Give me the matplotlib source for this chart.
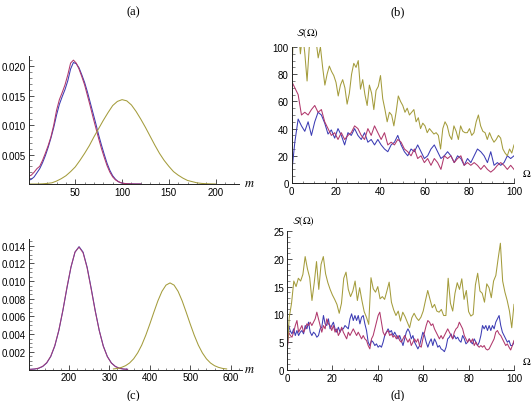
import numpy as np
import matplotlib
matplotlib.use('Agg')
import matplotlib.pyplot as plt
from matplotlib.ticker import MultipleLocator, FixedLocator, FormatStrFormatter

plt.rcParams['mathtext.fontset'] = 'stix'
plt.rcParams['font.family'] = ['Liberation Sans', 'DejaVu Sans']

BLUE = '#3c3cb4'
RED = '#b0386c'
OLIVE = '#a49c3c'

# ---------------- panel (a) ----------------
m_a = [0, 3, 6, 9, 12, 15, 18, 21, 24, 27, 30, 33, 36, 39, 42, 45, 48, 51, 54, 57, 60,
       63, 66, 69, 72, 75, 78, 81, 84, 87, 90, 93, 96, 99, 102, 105, 108, 111, 114, 117, 120]
a_blue = [0.0006, 0.0008, 0.0012, 0.0019, 0.0026, 0.0036, 0.0048, 0.0062, 0.0078, 0.0096,
          0.0117, 0.0135, 0.0148, 0.0160, 0.0175, 0.0195, 0.0206, 0.0204, 0.0197, 0.0185,
          0.0172, 0.0156, 0.0138, 0.0120, 0.0102, 0.0083, 0.0066, 0.0050, 0.0035, 0.0023,
          0.0014, 0.0008, 0.0004, 0.0002, 0.0001, 0.00005, 0.00003, 0.00001, 0, 0, 0]
a_red = [0.0013, 0.0015, 0.0020, 0.0026, 0.0030, 0.0040, 0.0052, 0.0065, 0.0080, 0.0100,
         0.0125, 0.0143, 0.0155, 0.0168, 0.0185, 0.0205, 0.0210, 0.0205, 0.0195, 0.0182,
         0.0168, 0.0150, 0.0132, 0.0113, 0.0095, 0.0077, 0.0060, 0.0045, 0.0031, 0.0020,
         0.0012, 0.0007, 0.0004, 0.0002, 0.0001, 0.00005, 0.00003, 0.00001, 0, 0, 0]
m_a_olive = [0, 5, 10, 15, 20, 25, 30, 35, 40, 45, 50, 55, 60, 65, 70, 75, 80, 85, 90, 95,
             100, 105, 110, 115, 120, 125, 130, 135, 140, 145, 150, 155, 160, 165, 170,
             175, 180, 185, 190, 195, 200]
a_olive = [0, 0, 0, 0.00003, 0.0001, 0.0002, 0.0005, 0.0009, 0.0014, 0.0021, 0.0029,
           0.0040, 0.0052, 0.0065, 0.0080, 0.0094, 0.0108, 0.0121, 0.0133, 0.0140, 0.0143,
           0.0141, 0.0134, 0.0123, 0.0110, 0.0096, 0.0081, 0.0066, 0.0052, 0.0040, 0.0030,
           0.0021, 0.0015, 0.0010, 0.0006, 0.0004, 0.0002, 0.0001, 0.00005, 0.00002, 0]

# ---------------- panel (c) ----------------
m_c = [105, 115, 125, 135, 145, 155, 165, 175, 185, 195, 205, 215, 225, 235, 245, 255,
       265, 275, 285, 295, 305, 315, 325, 335, 345]
c_blue = [0.00002, 0.00005, 0.00014, 0.00034, 0.00074, 0.00147, 0.00266, 0.00441, 0.00667,
          0.0092, 0.01157, 0.01328, 0.0139, 0.01328, 0.01157, 0.0092, 0.00667, 0.00441,
          0.00266, 0.00147, 0.00074, 0.00034, 0.00014, 0.00005, 0.00002]
c_red = [0.00002, 0.00006, 0.00015, 0.00036, 0.00077, 0.0015, 0.0027, 0.00445, 0.0067,
         0.0093, 0.0116, 0.0133, 0.01385, 0.0132, 0.0115, 0.0091, 0.0066, 0.0044, 0.00262,
         0.00145, 0.00072, 0.00033, 0.00013, 0.00005, 0.00002]
m_c_olive = [310, 320, 330, 340, 350, 360, 370, 380, 390, 400, 410, 420, 430, 440, 450,
             460, 470, 480, 490, 500, 510, 520, 530, 540, 550, 560, 570, 580, 590]
c_olive = [0.00006, 0.00012, 0.00024, 0.00043, 0.00074, 0.00121, 0.00188, 0.00276, 0.00387,
           0.00514, 0.00648, 0.00777, 0.00884, 0.00955, 0.0098, 0.00955, 0.00884, 0.00777,
           0.00648, 0.00514, 0.00387, 0.00276, 0.00188, 0.00121, 0.00074, 0.00043, 0.00024,
           0.00012, 0.00006]

# ---------------- panel (b) ----------------
b_blue = [6, 30, 47, 42, 38, 45, 35, 45, 52, 50, 44, 36, 39, 33, 40, 35, 28, 37, 35, 40,
          35, 32, 37, 30, 32, 28, 32, 28, 25, 23, 28, 30, 35, 28, 23, 20, 25, 23, 28, 23,
          18, 20, 25, 28, 23, 18, 20, 23, 20, 15, 20, 18, 13, 18, 15, 20, 25, 23, 20, 15,
          23, 13, 15, 13, 15, 20, 18, 20]
b_red = [75, 70, 65, 50, 52, 50, 54, 57, 52, 54, 45, 40, 35, 37, 32, 37, 32, 35, 37, 42,
         40, 35, 32, 40, 35, 42, 37, 32, 37, 28, 30, 28, 32, 30, 25, 23, 20, 25, 18, 20,
         15, 18, 13, 18, 15, 10, 20, 18, 20, 15, 18, 20, 13, 15, 13, 15, 13, 10, 13, 10,
         8, 10, 13, 15, 13, 10, 13, 10]
b_olive = [70, 120, 120, 115, 95, 110, 95, 75, 100, 110,
           110, 105, 92, 100, 85, 72, 80, 86, 82, 79,
           74, 64, 72, 76, 70, 58, 66, 80, 88, 85,
           90, 69, 76, 65, 57, 72, 66, 54, 68, 71,
           79, 62, 54, 45, 52, 50, 42, 52, 64, 60,
           57, 52, 55, 50, 52, 54, 45, 48, 40, 44,
           42, 37, 40, 38, 36, 37, 35, 25, 40, 45,
           42, 35, 32, 42, 38, 32, 42, 38, 37, 37,
           40, 35, 37, 45, 50, 42, 38, 37, 32, 37,
           33, 30, 32, 35, 33, 25, 22, 20, 25, 22, 28]

# ---------------- panel (d) ----------------
d_blue = [3, 8, 7, 6.5, 7.4, 6.2, 7.1, 6.2, 6.8, 7.1, 6.5, 8, 7.4, 8.6, 6.8, 6.2, 6.8, 6.5,
          5.9, 6.2, 7.4, 7.7, 9.8, 8.3, 8, 9.2, 7.4, 8, 8.6, 7.4, 6.8, 7.7, 6.8, 7.4, 7.4,
          8, 7.7, 7.4, 9.2, 10.1, 8.9, 9.8, 8.9, 9.8, 8.3, 9.5, 9.8, 8.3, 7.1, 5, 4.4, 5.3,
          5, 4.4, 4.7, 4.1, 4.4, 4.1, 5, 6.2, 6.8, 7.4, 6.8, 7.1, 6.2, 6.8, 6.2, 5.6, 6.2,
          5.3, 4.4, 5.6, 6.8, 7.4, 6.8, 5.6, 6.2, 5, 4.4, 3.8, 4.4, 5.6, 6.8, 6.2, 5, 4.1,
          5, 5.6, 4.4, 5.6, 5, 4.1, 4.4, 3.8, 3.6, 3.3, 4.1, 5.6, 5.9, 6.5, 5.6, 6.2, 5.6,
          5.9, 5.3, 5, 6.2, 5.6, 4.7, 5, 5.6, 5, 4.7, 5.6, 5, 4.4, 5, 6.2, 8, 7.4, 8, 7.1,
          8, 7.1, 8, 7.4, 8.6, 9.2, 9.8, 8, 6.8, 6.2, 5.6, 5, 5.3, 4.4, 4.4, 5]
d_red = [3, 6.8, 6.2, 5.9, 6.8, 8, 8.9, 6.8, 7.4, 8, 6.8, 7.4, 8.3, 8, 8.6, 8, 8.6, 9.2,
         10.4, 9.2, 8, 6.8, 8, 7.4, 9.2, 8.3, 8, 7.1, 8, 6.8, 7.4, 6.2, 6.8, 7.7, 6.8, 6.2,
         5.6, 6.8, 6.2, 6.8, 7.4, 6.8, 6.2, 6.8, 6.2, 5.6, 6.2, 5.6, 5.3, 4.4, 3.8, 5.6,
         6.2, 7.4, 8.6, 9.8, 10.4, 8.6, 6.8, 6.2, 6.8, 7.1, 6.2, 6.5, 5.9, 6.2, 5.6, 6.2,
         5.3, 5, 5.6, 6.2, 5.6, 5, 5.6, 4.4, 5, 5.6, 5, 5.6, 4.4, 4.1, 5.6, 6.8, 8, 8.9,
         8.6, 8, 8.3, 7.4, 6.8, 6.2, 5.6, 6.2, 5.6, 6.2, 6.8, 7.4, 6.8, 6.2, 5.6, 6.8, 7.4,
         7.7, 8.6, 8, 7.4, 6.2, 5.6, 5, 5.6, 5, 5.6, 4.4, 5, 4.4, 4.1, 4.4, 4.1, 4.4, 3.8,
         3.6, 3.8, 4.4, 5, 5.6, 6.8, 7.1, 6.5, 6.2, 5.6, 5, 4.4, 4.7, 4.1, 3.6, 4.4, 5.3]
d_olive = [3.3, 9.5, 12, 16, 15, 16.5, 16, 17.2, 20.4, 18.2,
           16.6, 12.5, 15.7, 19.5, 14.5, 19, 20.4, 17.3, 15.7, 14.5,
           13.5, 12.7, 11.8, 10.2, 12, 16.5, 17.6, 14.5, 13.2, 14.2,
           16, 12.5, 14.8, 12.5, 10.5, 9.5, 8.2, 16.6, 14.6, 14,
           15, 12.8, 13.2, 12.7, 14.2, 15.8, 12.2, 10.8, 9.8, 10.6,
           8.8, 10.4, 9.6, 8.6, 7.6, 9.4, 10.2, 9.4, 8.9, 9.5,
           10.6, 12.5, 14.3, 12.7, 11.2, 11.8, 10.6, 10.4, 10.9, 9.8,
           9.8, 16.5, 12, 10.6, 13.8, 15.7, 14.5, 16.4, 12.7, 14.3,
           10.5, 9.7, 10, 15.3, 17.4, 14.2, 13.8, 12.2, 15.5, 14.8,
           13, 16, 17, 20, 22.8, 16, 14, 12.5, 10.6, 7.6, 11.8]

W, H = 531, 402
fig = plt.figure(figsize=(W / 100, H / 100), dpi=100)


def rect(x0, x1, y_top, y_bot):
    return [x0 / W, 1 - y_bot / H, (x1 - x0) / W, (y_bot - y_top) / H]


def style(ax):
    for s in ('top', 'right'):
        ax.spines[s].set_visible(False)
    for s in ('left', 'bottom'):
        ax.spines[s].set_linewidth(0.7)
        ax.spines[s].set_color('#222222')
    ax.tick_params(which='major', direction='in', length=3.5, width=0.6,
                   labelsize=7, pad=2, color='#333333')
    ax.tick_params(which='minor', direction='in', length=1.8, width=0.5, color='#555555')
    ax.patch.set_alpha(0)


lw = 0.75

# (a)
ax = fig.add_axes(rect(28.5, 239, 57, 185))
ax.plot(m_a, a_blue, color=BLUE, lw=lw)
ax.plot(m_a, a_red, color=RED, lw=lw)
ax.plot(m_a_olive, a_olive, color=OLIVE, lw=lw)
ax.set_xlim(0, 225)
ax.set_ylim(0, 0.0217)
ax.xaxis.set_major_locator(FixedLocator([50, 100, 150, 200]))
ax.xaxis.set_minor_locator(MultipleLocator(10))
ax.yaxis.set_major_locator(FixedLocator([0.005, 0.010, 0.015, 0.020]))
ax.yaxis.set_minor_locator(MultipleLocator(0.001))
ax.yaxis.set_major_formatter(FormatStrFormatter('%.3f'))
style(ax)

# (c)
ax = fig.add_axes(rect(28.5, 242, 240, 370.5))
ax.plot(m_c, c_blue, color=BLUE, lw=lw)
ax.plot(m_c, c_red, color=RED, lw=lw, alpha=0.8)
ax.plot(m_c_olive, c_olive, color=OLIVE, lw=lw)
ax.set_xlim(100, 628)
ax.set_ylim(0, 0.01477)
ax.xaxis.set_major_locator(FixedLocator([200, 300, 400, 500, 600]))
ax.xaxis.set_minor_locator(MultipleLocator(20))
ax.yaxis.set_major_locator(FixedLocator([0.002, 0.004, 0.006, 0.008, 0.010, 0.012, 0.014]))
ax.yaxis.set_minor_locator(MultipleLocator(0.0005))
ax.yaxis.set_major_formatter(FormatStrFormatter('%.3f'))
style(ax)

# (b)
ax = fig.add_axes(rect(291.5, 514, 48, 184))
ax.plot(np.linspace(0, 100, len(b_blue)), b_blue, color=BLUE, lw=lw)
ax.plot(np.linspace(0, 100, len(b_red)), b_red, color=RED, lw=lw)
ax.plot(np.linspace(0, 100, len(b_olive)), b_olive, color=OLIVE, lw=lw)
ax.set_xlim(0, 100)
ax.set_ylim(0, 100)
ax.xaxis.set_major_locator(MultipleLocator(20))
ax.xaxis.set_minor_locator(MultipleLocator(5))
ax.yaxis.set_major_locator(MultipleLocator(20))
ax.yaxis.set_minor_locator(MultipleLocator(5))
style(ax)

# (d)
ax = fig.add_axes(rect(287, 514, 232, 371))
ax.plot(np.linspace(0, 100, len(d_blue)), d_blue, color=BLUE, lw=lw)
ax.plot(np.linspace(0, 100, len(d_red)), d_red, color=RED, lw=lw)
ax.plot(np.linspace(0, 100, len(d_olive)), d_olive, color=OLIVE, lw=lw)
ax.set_xlim(0, 100)
ax.set_ylim(0, 25)
ax.xaxis.set_major_locator(MultipleLocator(20))
ax.xaxis.set_minor_locator(MultipleLocator(5))
ax.yaxis.set_major_locator(MultipleLocator(5))
ax.yaxis.set_minor_locator(MultipleLocator(1))
style(ax)


def ftext(x, y, s, **kw):
    fig.text(x / W, 1 - y / H, s, **kw)


serif = ['Liberation Serif', 'DejaVu Serif']
ftext(133, 12, '(a)', ha='center', va='center', fontsize=9, family=serif)
ftext(398, 12, '(b)', ha='center', va='center', fontsize=9, family=serif)
ftext(133, 396, '(c)', ha='center', va='center', fontsize=9, family=serif)
ftext(398, 395, '(d)', ha='center', va='center', fontsize=9, family=serif)

ftext(244, 184, r'$m$', ha='left', va='center', fontsize=9)
ftext(244, 370, r'$m$', ha='left', va='center', fontsize=9)
ftext(296, 33, r'$\mathcal{S}(\Omega)$', ha='left', va='center', fontsize=7.5)
ftext(292, 221, r'$\mathcal{S}(\Omega)$', ha='left', va='center', fontsize=7.5)
ftext(522, 174, r'$\Omega$', ha='left', va='center', fontsize=7.5)
ftext(522, 362, r'$\Omega$', ha='left', va='center', fontsize=7.5)

fig.savefig('out.png', dpi=100)
